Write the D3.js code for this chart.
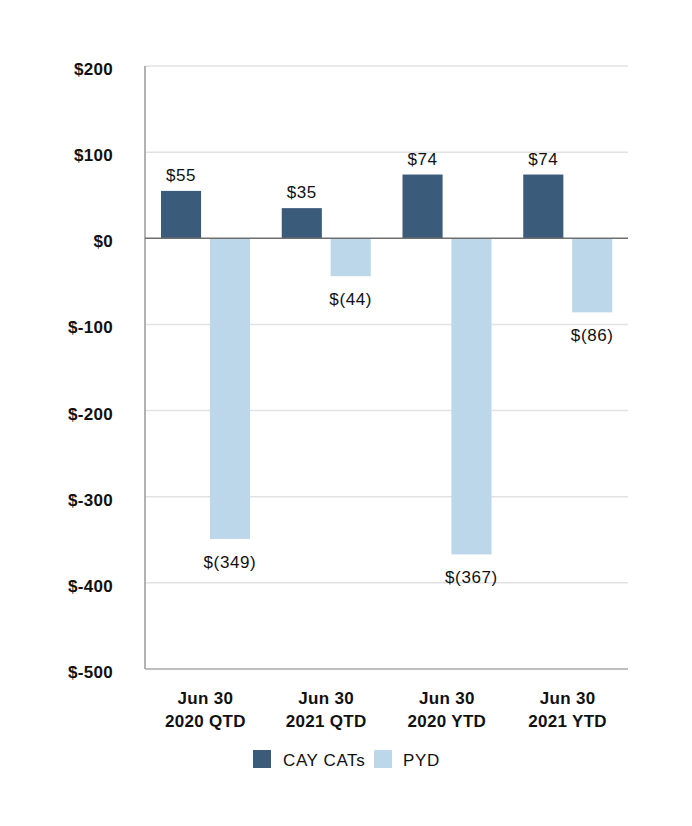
<!DOCTYPE html>
<html>
<head>
  <meta charset="utf-8"/>
  <title>CAY CATs vs PYD</title>
  <style>
    body { margin: 0; background: #fff; }
    text { font-family: "Liberation Sans", Arial, sans-serif; }
  </style>
</head>
<body>
<div id="graph"></div>
<script src="https://cdn.jsdelivr.net/npm/d3@7"></script>
<script>
// chart data
var categories = [["Jun 30", "2020 QTD"], ["Jun 30", "2021 QTD"], ["Jun 30", "2020 YTD"], ["Jun 30", "2021 YTD"]];
var seriesNames = ["CAY CATs", "PYD"];
var cayCats = [55, 35, 74, 74];
var pyd = [-349, -44, -367, -86];
var yTicks = [200, 100, 0, -100, -200, -300, -400, -500];
var colors = ["#3b5b7b", "#bdd7ea"];

var W = 692, H = 826;
var margin = {top: 66, right: 64, bottom: 157, left: 145};

var svg = d3.select("#graph").append("svg")
    .attr("width", W)
    .attr("height", H);

var catKeys = categories.map(function(c) { return c.join(" "); });

var x0 = d3.scaleBand()
    .domain(catKeys)
    .range([margin.left, W - margin.right]);
var x1 = d3.scaleBand()
    .domain(seriesNames)
    .range([16, 105])
    .paddingInner(0.18);
var y = d3.scaleLinear()
    .domain([-500, 200])
    .range([H - margin.bottom, margin.top]);

// gridlines
svg.append("g")
  .selectAll("line")
  .data(yTicks.filter(function(t) { return t != 0 && t != -500; }))
  .enter().append("line")
    .attr("x1", margin.left)
    .attr("x2", W - margin.right)
    .attr("y1", function(d) { return y(d); })
    .attr("y2", function(d) { return y(d); })
    .attr("stroke", "#e2e2e2")
    .attr("stroke-width", 1.5);

// y tick labels
svg.append("g")
  .selectAll("text")
  .data(yTicks)
  .enter().append("text")
    .attr("x", 113)
    .attr("y", function(d) { return y(d) + 9; })
    .attr("text-anchor", "end")
    .style("font-size", "17px")
    .style("font-weight", "bold")
    .style("letter-spacing", "0.3px")
    .attr("fill", "#111")
    .text(function(d) { return "$" + d; });

// bars
var rows = catKeys.map(function(k, i) {
  return {key: k, values: [
    {name: seriesNames[0], v: cayCats[i]},
    {name: seriesNames[1], v: pyd[i]}
  ]};
});

var groups = svg.append("g")
  .selectAll("g")
  .data(rows)
  .enter().append("g")
    .attr("transform", function(d) { return "translate(" + x0(d.key) + ",0)"; });

groups.selectAll("rect")
  .data(function(d) { return d.values; })
  .enter().append("rect")
    .attr("x", function(d) { return x1(d.name); })
    .attr("width", x1.bandwidth())
    .attr("y", function(d) { return y(Math.max(0, d.v)); })
    .attr("height", function(d) { return Math.abs(y(d.v) - y(0)); })
    .attr("fill", function(d, i) { return colors[i]; });

groups.selectAll("text")
  .data(function(d) { return d.values; })
  .enter().append("text")
    .attr("x", function(d) { return x1(d.name) + x1.bandwidth() / 2; })
    .attr("y", function(d) { return d.v >= 0 ? y(d.v) - 10 : y(d.v) + 29; })
    .attr("text-anchor", "middle")
    .style("font-size", "17px")
    .style("letter-spacing", "0.6px")
    .attr("fill", "#111")
    .text(function(d) { return d.v >= 0 ? "$" + d.v : "$(" + (-d.v) + ")"; });

// axes lines
svg.append("line")
    .attr("x1", margin.left).attr("x2", margin.left)
    .attr("y1", y(200)).attr("y2", y(-500))
    .attr("stroke", "#999").attr("stroke-width", 1.5);
svg.append("line")
    .attr("x1", margin.left).attr("x2", W - margin.right)
    .attr("y1", y(-500)).attr("y2", y(-500))
    .attr("stroke", "#aaa").attr("stroke-width", 1.5);
svg.append("line")
    .attr("x1", margin.left).attr("x2", W - margin.right)
    .attr("y1", y(0)).attr("y2", y(0))
    .attr("stroke", "#6f6f6f").attr("stroke-width", 1.5);

// category labels
var cl = svg.append("g")
  .selectAll("text")
  .data(categories)
  .enter().append("text")
    .attr("text-anchor", "middle")
    .style("font-size", "17px")
    .style("font-weight", "bold")
    .style("letter-spacing", "0.3px")
    .attr("fill", "#111");
cl.each(function(d, i) {
  var t = d3.select(this);
  var cx = x0(catKeys[i]) + x0.bandwidth() / 2;
  t.append("tspan").attr("x", cx).attr("y", 704).text(d[0]);
  t.append("tspan").attr("x", cx).attr("y", 727).text(d[1]);
});

// legend
var legendX = [253, 374];
var leg = svg.append("g")
  .selectAll("g")
  .data(seriesNames)
  .enter().append("g")
    .attr("transform", function(d, i) { return "translate(" + legendX[i] + ",750)"; });
leg.append("rect")
    .attr("width", 18).attr("height", 18)
    .attr("fill", function(d, i) { return colors[i]; });
leg.append("text")
    .attr("x", function(d, i) { return i == 0 ? 30 : 29; })
    .attr("y", 16)
    .style("font-size", "17px")
    .style("letter-spacing", "0.6px")
    .attr("fill", "#111")
    .text(function(d) { return d; });
</script>
</body>
</html>
